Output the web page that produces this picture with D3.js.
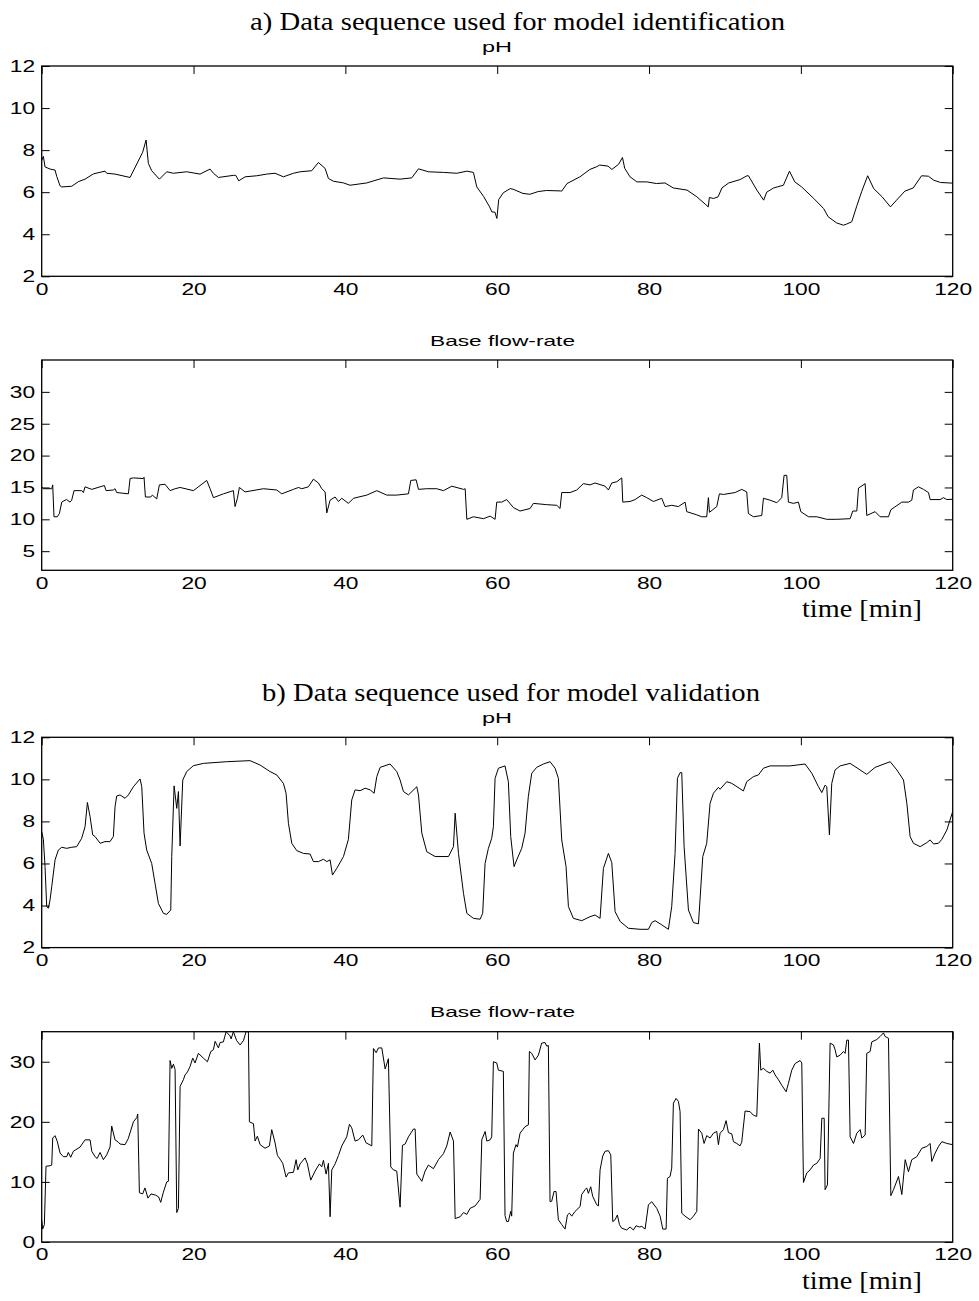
<!doctype html>
<html>
<head>
<meta charset="utf-8">
<title>pH and base flow-rate sequences</title>
<script src="https://cdnjs.cloudflare.com/ajax/libs/d3/7.8.5/d3.min.js"></script>
<style>
body { margin: 0; background: #fff; }
</style>
</head>
<body>
<div id="chart"></div>
<script>
// [time (min), value]
var phIdent = [[0,7.5],[0.22,7.7],[0.44,7.2],[1.1,7.1],[1.76,7.05],[1.98,6.75],[2.42,6.3],[2.64,6.25],[3.95,6.28],[4.83,6.5],[5.71,6.62],[6.81,6.87],[8.34,7.0],[8.56,6.9],[9.66,6.86],[11.64,6.7],[13.3,7.9],[13.75,8.48],[14.05,7.37],[14.49,7.02],[15.5,6.62],[16.47,6.97],[17.35,6.9],[19.1,6.97],[20.86,6.86],[22.18,7.1],[22.62,6.9],[23.28,6.7],[25.25,6.8],[25.56,6.8],[25.96,6.54],[26.79,6.73],[28.33,6.78],[29.64,6.86],[30.74,6.9],[31.84,6.73],[33.16,6.9],[34.04,6.97],[35.57,7.02],[36.45,7.41],[37.33,7.13],[37.77,6.65],[38.43,6.52],[39.75,6.44],[40.62,6.33],[42.82,6.44],[45.02,6.68],[47.21,6.62],[48.75,6.68],[49.63,7.11],[50.94,6.97],[52.92,6.94],[54.68,6.9],[56.0,7.0],[56.87,6.94],[57.31,6.25],[58.2,5.8],[59.0,5.3],[59.3,5.06],[59.7,5.05],[59.96,4.75],[60.2,5.65],[60.8,5.97],[61.7,6.17],[62.1,6.14],[63.4,5.94],[64.3,5.9],[65.4,6.03],[66.5,6.08],[68.3,6.06],[68.5,6.05],[69.2,6.41],[70.9,6.73],[72.2,7.08],[73.1,7.21],[73.5,7.29],[74.6,7.24],[75.1,7.08],[76.0,7.33],[76.5,7.65],[76.8,7.13],[77.5,6.73],[78.4,6.49],[79.7,6.49],[81.0,6.41],[82.1,6.44],[83.2,6.2],[85.0,6.1],[86.3,5.78],[87.4,5.43],[87.8,5.3],[87.95,5.75],[88.5,5.7],[89.1,5.78],[89.6,6.2],[90.5,6.44],[92.0,6.6],[92.9,6.78],[93.1,6.78],[94.2,6.1],[95.1,5.62],[95.5,6.0],[96.4,6.2],[97.7,6.33],[98.5,7.0],[99.2,6.49],[100.1,6.25],[101.7,5.7],[103.0,5.22],[103.6,4.83],[104.7,4.54],[105.6,4.43],[106.0,4.48],[106.7,4.59],[107.4,5.38],[108.0,6.02],[108.8,6.78],[109.6,6.17],[110.7,5.78],[111.8,5.3],[112.6,5.62],[113.7,6.05],[114.8,6.2],[115.9,6.78],[116.8,6.76],[117.5,6.57],[118.4,6.46],[120,6.43]];

var flowIdent = [[0,15.1],[0.22,14.8],[1.32,14.8],[1.45,15.4],[1.62,10.4],[2.06,10.4],[2.33,10.9],[2.64,12.7],[3.07,13.0],[3.29,13.1],[3.73,12.7],[3.95,13.0],[4.26,14.5],[5.27,14.5],[5.49,14.2],[5.71,15.1],[6.59,14.7],[7.69,15.1],[8.26,15.3],[8.48,14.5],[9.44,14.6],[9.66,14.8],[9.88,14.2],[11.42,14.0],[11.64,16.4],[12.08,16.5],[13.39,16.4],[13.48,16.6],[13.66,13.5],[14.36,13.5],[14.58,13.8],[15.15,13.2],[15.5,15.4],[16.25,15.5],[16.91,14.5],[17.57,14.8],[18.23,15.0],[19.98,14.5],[21.74,16.1],[22.18,14.8],[22.62,13.4],[23.94,14.0],[25.25,14.5],[25.47,12.0],[25.78,13.3],[26.04,15.0],[26.79,14.3],[29.2,14.8],[30.96,14.6],[31.62,14.0],[33.16,14.7],[33.82,15.0],[34.26,14.8],[35.13,15.1],[35.79,16.3],[36.45,15.7],[36.89,14.8],[37.33,14.3],[37.55,11.0],[37.99,13.0],[38.65,13.5],[39.09,12.8],[39.53,13.3],[40.4,12.5],[41.06,13.3],[42.82,13.8],[44.14,14.5],[45.45,13.8],[46.77,13.8],[48.31,14.0],[48.62,16.1],[49.32,16.2],[49.63,14.7],[50.72,14.8],[52.04,14.8],[52.92,14.5],[54.02,15.2],[55.56,14.7],[55.78,14.8],[56.0,10.0],[56.87,10.4],[58.19,10.1],[59.07,10.5],[59.72,10.0],[59.94,12.7],[60.59,12.7],[61.25,13.1],[62.13,11.85],[63.01,11.3],[64.33,11.7],[64.77,12.5],[66.52,12.3],[67.84,12.2],[68.28,11.7],[68.5,14.2],[69.6,14.2],[70.48,14.6],[71.35,15.6],[72.23,15.4],[72.89,15.7],[74.21,15.2],[74.65,14.6],[75.09,15.7],[75.75,15.9],[76.41,16.5],[76.54,12.7],[77.5,12.8],[78.16,13.1],[79.04,13.8],[79.7,13.4],[80.58,12.8],[81.67,13.3],[82.11,12.0],[82.99,12.2],[83.87,12.0],[84.75,12.7],[84.97,11.2],[86.29,10.7],[86.95,10.4],[87.6,10.4],[87.82,13.4],[87.96,11.1],[88.92,12.0],[89.27,14.0],[89.8,13.9],[91.34,14.2],[92.21,14.7],[92.87,14.3],[93.09,10.9],[93.75,10.4],[94.85,10.6],[95.07,13.3],[95.95,13.0],[96.83,12.6],[97.48,13.4],[97.79,16.9],[98.14,16.9],[98.36,12.7],[99.02,12.5],[99.68,12.7],[99.99,11.2],[101.0,10.4],[102.1,10.4],[103.41,10.0],[104.73,10.0],[106.49,10.1],[106.84,11.3],[107.37,11.3],[107.59,14.9],[108.47,15.6],[108.68,10.6],[109.78,11.2],[110.44,10.4],[111.54,10.4],[111.85,11.5],[113.3,12.7],[114.17,12.7],[114.61,13.0],[114.83,14.6],[115.49,15.1],[116.15,14.7],[116.81,14.2],[117.03,13.1],[118.35,13.1],[118.79,13.4],[119.22,13.1],[120,13.15]];

var phValid = [[0,7.52],[0.22,7.15],[0.44,5.85],[0.66,3.95],[0.88,3.87],[1.1,4.27],[1.32,4.9],[1.76,6.17],[2.2,6.64],[2.64,6.77],[3.29,6.72],[3.95,6.77],[4.61,6.8],[5.27,7.2],[5.71,7.75],[6.02,8.9],[6.37,8.23],[6.72,7.36],[7.03,7.28],[7.69,6.96],[8.34,7.04],[9.0,7.04],[9.44,7.28],[9.66,8.7],[9.88,9.21],[10.32,9.26],[10.98,9.1],[11.42,9.26],[12.08,9.65],[12.96,10.02],[13.18,9.65],[13.48,7.44],[13.83,6.64],[14.49,6.0],[14.93,5.06],[15.37,4.1],[16.03,3.63],[16.47,3.58],[17.0,3.79],[17.13,6.33],[17.44,9.69],[17.79,8.62],[18.01,9.42],[18.23,6.83],[18.58,9.97],[19.1,10.37],[19.98,10.65],[21.3,10.76],[24.37,10.84],[27.45,10.89],[28.77,10.68],[30.08,10.37],[30.96,10.21],[31.84,9.81],[32.19,9.34],[32.5,7.91],[32.94,6.96],[33.6,6.61],[34.48,6.48],[35.35,6.45],[35.79,6.09],[36.45,6.09],[37.11,6.2],[37.55,6.09],[37.99,6.17],[38.3,5.45],[38.87,5.77],[39.75,6.33],[40.4,7.15],[40.84,9.02],[41.28,9.5],[41.94,9.46],[42.6,9.58],[43.26,9.5],[43.79,9.34],[44.14,10.13],[44.58,10.57],[45.89,10.73],[46.77,10.37],[47.21,9.97],[47.65,9.42],[48.31,9.26],[49.41,9.65],[49.63,9.26],[50.07,7.44],[50.72,6.56],[51.82,6.33],[53.58,6.33],[54.24,6.8],[54.46,8.39],[54.9,6.48],[55.56,4.58],[56.0,3.63],[56.87,3.39],[57.75,3.35],[58.09,3.63],[58.4,6.0],[58.84,6.72],[59.28,7.2],[59.5,7.75],[59.72,10.05],[60.16,10.53],[61.03,10.64],[61.47,9.89],[61.78,7.28],[62.22,5.85],[62.57,6.17],[63.23,6.72],[63.67,7.44],[64.1,9.18],[64.55,10.29],[65.2,10.57],[66.08,10.73],[66.96,10.84],[67.62,10.53],[68.06,10.05],[68.5,7.12],[69.07,5.85],[69.38,3.95],[70.04,3.39],[71.13,3.28],[72.23,3.47],[72.89,3.55],[73.55,3.39],[73.99,5.77],[74.65,6.48],[75.09,6.04],[75.53,3.71],[76.2,3.24],[77.28,2.92],[78.82,2.87],[79.92,2.87],[80.36,3.19],[80.8,3.28],[81.68,3.08],[82.55,2.87],[82.99,3.95],[83.43,6.48],[83.74,10.05],[84.09,10.32],[84.31,10.32],[84.62,6.8],[85.19,3.79],[85.85,3.19],[86.51,3.13],[87.08,6.33],[87.6,6.96],[88.04,8.86],[88.48,9.34],[89.14,9.62],[89.36,9.53],[90.24,9.89],[90.9,9.81],[92.43,9.45],[92.87,9.89],[93.75,10.13],[94.41,10.21],[95.07,10.53],[95.95,10.64],[98.58,10.64],[100.56,10.73],[101.44,10.29],[102.32,9.65],[102.76,9.37],[103.2,9.73],[103.41,9.65],[103.76,7.36],[104.07,9.81],[104.51,10.45],[105.17,10.64],[106.49,10.76],[108.68,10.24],[109.78,10.57],[111.76,10.84],[112.64,10.45],[113.52,9.97],[113.96,8.86],[114.39,7.28],[114.83,6.96],[115.71,6.8],[116.59,6.99],[117.03,7.12],[117.47,6.93],[118.13,6.96],[118.57,7.15],[119.23,7.59],[120,8.47]];

var flowValid = [[0,3.7],[0.13,2.15],[0.35,2.9],[0.57,12.6],[1.1,12.7],[1.32,12.8],[1.45,17.3],[1.76,17.7],[2.06,16.7],[2.42,14.8],[2.85,14.2],[3.29,14.2],[3.5,14.9],[3.82,14.1],[4.17,15.1],[5.05,15.8],[5.71,17.0],[6.37,17.0],[6.6,15.1],[7.03,14.2],[7.3,13.9],[7.69,14.9],[8.12,13.7],[8.56,14.5],[9.0,15.8],[9.22,19.3],[9.66,17.0],[10.1,16.6],[10.32,16.3],[10.98,16.2],[11.4,17.2],[12.08,20.0],[12.52,20.7],[12.65,21.3],[12.87,8.2],[13.3,8.0],[13.6,9.0],[14.0,7.3],[14.4,8.0],[15.0,7.8],[15.4,7.5],[15.68,6.6],[16.03,8.3],[16.47,10.0],[16.69,10.1],[16.91,30.2],[17.13,28.9],[17.35,29.6],[17.57,28.7],[17.79,4.9],[18.01,5.6],[18.23,25.9],[18.66,27.0],[18.88,27.8],[19.2,28.3],[19.54,29.2],[19.89,30.6],[20.2,29.8],[20.64,31.4],[21.3,30.6],[21.83,30.0],[22.27,31.7],[22.62,32.0],[22.84,33.4],[23.28,32.3],[23.5,33.2],[23.93,33.3],[24.29,35],[24.81,34.3],[24.95,33.8],[25.25,35],[25.69,33.5],[26.13,32.8],[26.57,33.5],[26.92,35],[27.23,35],[27.36,20.0],[27.89,19.7],[28.11,16.8],[28.41,17.6],[28.77,16.2],[29.42,15.6],[30.0,16.0],[30.3,18.7],[30.74,16.5],[31.05,14.4],[31.4,13.8],[31.75,13.1],[32.19,10.8],[32.5,11.5],[33.16,11.6],[33.51,13.7],[33.73,12.0],[34.04,13.0],[34.69,14.0],[35.0,13.0],[35.44,10.3],[36.01,11.8],[36.58,13.0],[36.89,12.5],[37.11,13.6],[37.46,11.3],[37.77,13.1],[37.99,4.2],[38.21,12.0],[38.65,13.0],[39.09,14.4],[39.53,16.0],[40.18,17.5],[40.54,19.6],[40.84,19.0],[41.28,16.8],[41.72,17.0],[42.29,17.8],[42.73,16.5],[43.48,16.0],[43.7,32.2],[44.05,31.5],[44.36,32.3],[44.8,32.3],[45.24,28.8],[45.67,30.5],[45.98,12.5],[46.33,12.0],[46.77,11.8],[47.21,5.8],[47.52,16.1],[47.87,16.3],[48.31,17.5],[48.97,18.8],[49.19,18.8],[49.41,11.3],[50.07,10.1],[50.5,11.8],[50.94,12.8],[51.6,12.2],[52.26,13.7],[52.92,14.7],[53.36,16.0],[53.8,18.3],[54.24,16.8],[54.46,3.9],[55.12,4.2],[55.56,4.9],[56.0,4.6],[56.43,5.6],[57.09,6.0],[57.75,7.1],[57.97,17.0],[58.41,18.4],[58.63,16.8],[59.07,17.0],[59.28,17.5],[59.5,30.0],[59.94,29.8],[60.16,28.6],[60.81,28.4],[61.03,4.4],[61.25,3.4],[61.47,3.4],[61.78,5.1],[61.91,4.3],[62.13,14.8],[62.48,16.2],[62.66,15.8],[63.01,18.1],[63.36,18.7],[63.67,19.2],[64.11,19.5],[64.24,31.7],[64.55,31.4],[64.99,30.3],[65.43,31.1],[65.86,33.1],[66.3,33.2],[66.52,32.6],[66.74,32.7],[66.96,6.7],[67.18,6.8],[67.49,8.4],[67.75,8.4],[68.06,3.7],[68.5,2.9],[68.94,2.15],[69.25,4.5],[69.51,4.8],[69.82,4.3],[70.26,5.1],[70.92,5.9],[71.13,7.9],[71.57,8.7],[71.79,9.0],[72.01,8.1],[72.32,9.2],[72.58,7.6],[73.11,6.2],[73.33,6.0],[73.55,12.0],[73.9,14.3],[74.21,15.1],[74.65,15.2],[74.96,14.5],[75.22,3.4],[75.53,3.7],[75.83,4.5],[76.1,2.9],[76.4,2.3],[77.06,2.0],[77.5,2.5],[77.94,2.0],[78.29,2.7],[78.73,2.5],[79.04,2.6],[79.48,2.15],[79.92,6.2],[80.36,6.7],[81.02,5.6],[81.46,4.3],[81.81,2.15],[82.25,2.15],[82.42,10.6],[82.77,10.9],[82.99,12.3],[83.21,23.1],[83.56,23.9],[83.87,23.4],[84.09,21.7],[84.31,4.8],[84.75,4.3],[85.41,3.7],[85.85,4.3],[86.29,5.1],[86.51,18.8],[86.95,18.1],[87.25,16.4],[87.6,17.7],[88.04,17.3],[88.48,18.1],[88.92,18.4],[89.14,16.2],[89.36,18.1],[89.8,18.7],[90.15,20.2],[90.46,18.2],[90.9,18.0],[91.12,16.7],[91.56,16.4],[91.99,16.0],[92.21,16.6],[92.65,21.8],[93.31,21.7],[93.75,21.1],[94.19,20.9],[94.54,33.1],[94.72,28.6],[95.07,28.9],[95.51,28.4],[95.95,28.1],[96.3,28.6],[96.61,27.8],[97.05,27.0],[97.48,26.1],[98.06,25.0],[98.36,26.4],[98.8,28.6],[99.24,29.7],[99.9,30.2],[100.12,29.8],[100.34,9.9],[100.78,11.5],[101.22,12.0],[101.66,12.8],[102.1,13.1],[102.54,13.9],[102.76,20.6],[103.07,20.6],[103.19,8.7],[103.5,9.5],[103.85,33.1],[104.29,32.8],[104.51,32.0],[104.73,30.8],[105.17,31.1],[105.61,31.7],[105.83,31.4],[106.05,33.6],[106.27,33.6],[106.49,17.5],[106.93,16.4],[107.37,18.1],[107.81,18.7],[108.03,17.3],[108.47,17.8],[108.68,31.4],[109.12,31.7],[109.34,33.3],[110.0,33.7],[110.44,34.2],[110.88,34.8],[111.1,34.2],[111.54,33.9],[111.85,7.7],[112.2,8.7],[112.86,10.9],[113.3,7.9],[113.74,13.7],[114.17,11.7],[114.61,13.7],[115.27,14.2],[115.93,15.6],[116.59,15.9],[117.03,16.4],[117.25,13.4],[117.69,14.8],[118.13,15.9],[118.57,16.7],[119.22,16.4],[120,16.2]];

var xTicks = [0, 20, 40, 60, 80, 100, 120];
var phTicks = [2, 4, 6, 8, 10, 12];
var flowIdentTicks = [5, 10, 15, 20, 25, 30];
var flowValidTicks = [0, 10, 20, 30];

var titleA = "a) Data sequence used for model identification";
var titleB = "b) Data sequence used for model validation";
var phLabel = "pH";
var flowLabel = "Base flow-rate";
var timeLabel = "time [min]";

var W = 979, H = 1301;
var left = 41.7, right = 952.7, plotH = 210.3;
var serif = "'Liberation Serif','Times New Roman',serif";
var sans = "'Liberation Sans',Arial,Helvetica,sans-serif";
var stretch = 1.38;   // the figure's sans text is wide

var panels = [
  {data: phIdent,   dom: [2, 12], ticks: phTicks,        top: 66,     sub: phLabel,   subX: 482, subW: 30,  title: titleA, titleX: 250, titleW: 535},
  {data: flowIdent, dom: [2, 35], ticks: flowIdentTicks, top: 360,    sub: flowLabel, subX: 430, subW: 145, time: true},
  {data: phValid,   dom: [2, 12], ticks: phTicks,        top: 737.3,  sub: phLabel,   subX: 482, subW: 30,  title: titleB, titleX: 262, titleW: 498},
  {data: flowValid, dom: [0, 35], ticks: flowValidTicks, top: 1031.7, sub: flowLabel, subX: 430, subW: 145, time: true}
];

var svg = d3.select("#chart").append("svg")
    .attr("width", W)
    .attr("height", H)
    .style("background", "#fff");

var x = d3.scaleLinear().domain([0, 120]).range([left, right]);

panels.forEach(function (p, i) {
  var bottom = p.top + plotH;
  var y = d3.scaleLinear().domain(p.dom).range([bottom, p.top]);

  svg.append("clipPath").attr("id", "clip" + i)
    .append("rect")
    .attr("x", left).attr("y", p.top)
    .attr("width", right - left).attr("height", plotH);

  // inward ticks on left, right and top
  var tl = svg.append("g").attr("transform", "translate(" + left + ",0)")
    .call(d3.axisLeft(y).tickValues(p.ticks).tickSizeInner(-8).tickSizeOuter(0).tickFormat(""));
  var tr = svg.append("g").attr("transform", "translate(" + right + ",0)")
    .call(d3.axisRight(y).tickValues(p.ticks).tickSizeInner(-8).tickSizeOuter(0).tickFormat(""));
  var tt = svg.append("g").attr("transform", "translate(0," + p.top + ")")
    .call(d3.axisTop(x).tickValues(xTicks).tickSizeInner(-8).tickSizeOuter(0).tickFormat(""));
  [tl, tr, tt].forEach(function (g) {
    g.select(".domain").remove();
    g.selectAll("line").attr("stroke", "#000").attr("stroke-width", 1);
  });

  // tick labels
  var yl = svg.append("g").attr("transform", "translate(" + left + ",0)")
    .call(d3.axisLeft(y).tickValues(p.ticks).tickSize(0).tickPadding(4.8).tickFormat(d3.format("d")));
  var xl = svg.append("g").attr("transform", "translate(0," + bottom + ")")
    .call(d3.axisBottom(x).tickValues(xTicks).tickSize(0).tickPadding(6.5).tickFormat(d3.format("d")));
  [yl, xl].forEach(function (g) {
    g.select(".domain").remove();
    g.attr("font-family", null).attr("font-size", null);
    g.selectAll("text")
      .attr("fill", "#000")
      .style("font-family", sans)
      .style("font-size", "16.5px")
      .attr("transform", "scale(" + stretch + ",1)");
  });

  // frame
  svg.append("rect")
    .attr("x", left).attr("y", p.top)
    .attr("width", right - left).attr("height", plotH)
    .attr("fill", "none").attr("stroke", "#000").attr("stroke-width", 1.3);

  // series
  var line = d3.line().x(function (d) { return x(d[0]); }).y(function (d) { return y(d[1]); });
  svg.append("path")
    .datum(p.data)
    .attr("clip-path", "url(#clip" + i + ")")
    .attr("d", line)
    .attr("fill", "none")
    .attr("stroke", "#000")
    .attr("stroke-width", 1)
    .attr("stroke-linejoin", "round");

  svg.append("text")
    .attr("x", p.subX).attr("y", p.top - 14.5)
    .attr("textLength", p.subW).attr("lengthAdjust", "spacingAndGlyphs")
    .style("font-family", sans).style("font-size", "15px")
    .text(p.sub);

  if (p.title) {
    svg.append("text")
      .attr("x", p.titleX).attr("y", p.top - 36)
      .attr("textLength", p.titleW).attr("lengthAdjust", "spacingAndGlyphs")
      .style("font-family", serif).style("font-size", "25px")
      .text(p.title);
  }
  if (p.time) {
    svg.append("text")
      .attr("x", 802).attr("y", bottom + 46.5)
      .attr("textLength", 120).attr("lengthAdjust", "spacingAndGlyphs")
      .style("font-family", serif).style("font-size", "25px")
      .text(timeLabel);
  }
});
</script>
</body>
</html>
